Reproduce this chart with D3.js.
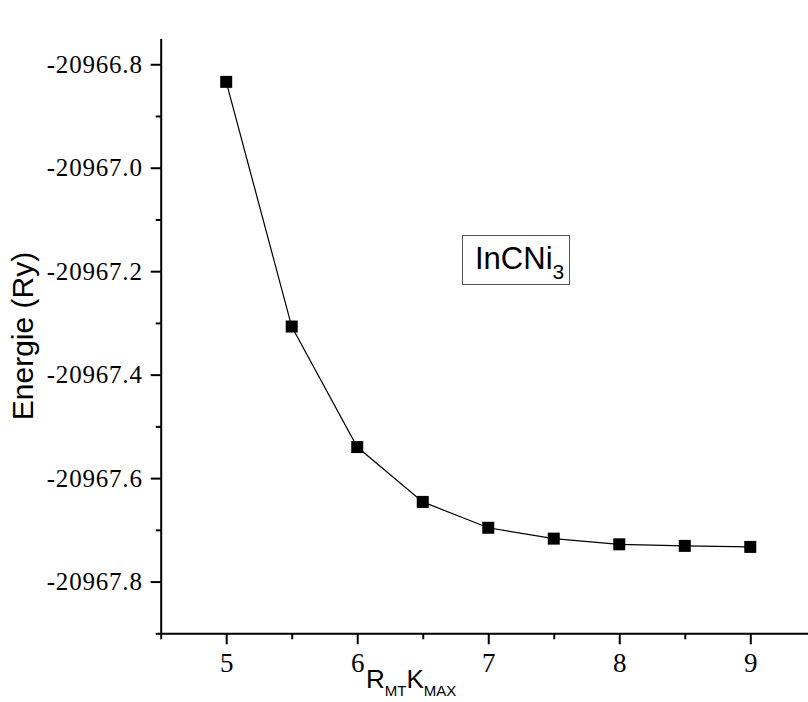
<!DOCTYPE html>
<html>
<head>
<meta charset="utf-8">
<script src="https://cdn.jsdelivr.net/npm/d3@7"></script>
<style>
  body { margin: 0; background: #fff; overflow: hidden; }
  svg { display: block; }
</style>
</head>
<body>
<svg id="chart" width="808" height="702"></svg>
<script>
// data
var rkmax = [5, 5.5, 6, 6.5, 7, 7.5, 8, 8.5, 9];
var energie = [-20966.834, -20967.307, -20967.540, -20967.646, -20967.696,
               -20967.717, -20967.728, -20967.731, -20967.733];
var xTicks = [5, 6, 7, 8, 9];
var xMinor = [4.5, 5.5, 6.5, 7.5, 8.5, 9.5];
var yTicks = [-20966.8, -20967.0, -20967.2, -20967.4, -20967.6, -20967.8];
var yMinor = [-20966.9, -20967.1, -20967.3, -20967.5, -20967.7, -20967.9];

var svg = d3.select("#chart");

// x axis runs past the right edge of the picture (cropped at 9.5)
var x = d3.scaleLinear().domain([4.5, 9.5]).range([160.7, 815.8]);
var y = d3.scaleLinear().domain([-20967.9, -20966.75]).range([633.3, 38.4]);

var serif = "Liberation Serif, serif";
var sans = "Liberation Sans, Arial, sans-serif";

// minor ticks first, no labels
svg.append("g")
    .attr("transform", "translate(" + x.range()[0] + ",0)")
    .call(d3.axisLeft(y).tickValues(yMinor).tickSize(5).tickFormat(""))
    .call(function(g){ g.select(".domain").remove(); });

svg.append("g")
    .attr("transform", "translate(0," + y.range()[0] + ")")
    .call(d3.axisBottom(x).tickValues(xMinor).tickSize(6).tickFormat(""))
    .call(function(g){ g.select(".domain").remove(); });

// y axis
var yAxis = svg.append("g")
    .attr("transform", "translate(" + x.range()[0] + ",0)")
    .call(d3.axisLeft(y).tickValues(yTicks).tickSize(10).tickSizeOuter(0).tickPadding(8)
        .tickFormat(function(d){ return d3.format(".1f")(d).replace("\u2212", "-"); }));

yAxis.attr("font-family", null).attr("font-size", null);
yAxis.selectAll("text")
    .style("font-family", serif)
    .style("font-size", "25px")
    .style("letter-spacing", "0.8px")
    .attr("fill", "#000");

// x axis
var xAxis = svg.append("g")
    .attr("transform", "translate(0," + y.range()[0] + ")")
    .call(d3.axisBottom(x).tickValues(xTicks).tickSize(11).tickSizeOuter(0).tickPadding(9)
        .tickFormat(d3.format("d")));

xAxis.attr("font-family", null).attr("font-size", null);
xAxis.selectAll("text")
    .style("font-family", serif)
    .style("font-size", "27px")
    .attr("fill", "#000");

svg.selectAll(".domain, .tick line")
    .attr("stroke", "#000")
    .attr("stroke-width", 2);

// line + squares
var line = d3.line()
    .x(function(d, i){ return x(rkmax[i]); })
    .y(function(d){ return y(d); });

svg.append("path")
    .datum(energie)
    .attr("d", line)
    .attr("fill", "none")
    .attr("stroke", "#000")
    .attr("stroke-width", 1.2);

var sq = 12;
svg.selectAll("rect.pt")
    .data(energie)
    .enter()
    .append("rect")
    .attr("class", "pt")
    .attr("x", function(d, i){ return x(rkmax[i]) - sq / 2; })
    .attr("y", function(d){ return y(d) - sq / 2; })
    .attr("width", sq)
    .attr("height", sq)
    .attr("fill", "#000");

// axis titles
svg.append("text")
    .attr("transform", "translate(33,336) rotate(-90)")
    .attr("text-anchor", "middle")
    .style("font-family", sans)
    .style("font-size", "30px")
    .attr("fill", "#000")
    .text("Energie (Ry)");

var xt = svg.append("text")
    .attr("x", 366)
    .attr("y", 688)
    .style("font-family", sans)
    .style("font-size", "26px")
    .attr("fill", "#000");
xt.append("tspan").text("R");
xt.append("tspan").style("font-size", "15px").attr("dy", 8).text("MT");
xt.append("tspan").attr("dy", -8).text("K");
xt.append("tspan").style("font-size", "15px").attr("dy", 8).text("MAX");

// legend box
svg.append("rect")
    .attr("x", 462.5)
    .attr("y", 235.5)
    .attr("width", 107)
    .attr("height", 49)
    .attr("fill", "none")
    .attr("stroke", "#555")
    .attr("stroke-width", 1);

var lg = svg.append("text")
    .attr("x", 475)
    .attr("y", 269)
    .style("font-family", sans)
    .style("font-size", "31px")
    .attr("fill", "#000");
lg.append("tspan").text("InCNi");
lg.append("tspan").style("font-size", "21px").attr("dy", 10).text("3");
</script>
</body>
</html>
